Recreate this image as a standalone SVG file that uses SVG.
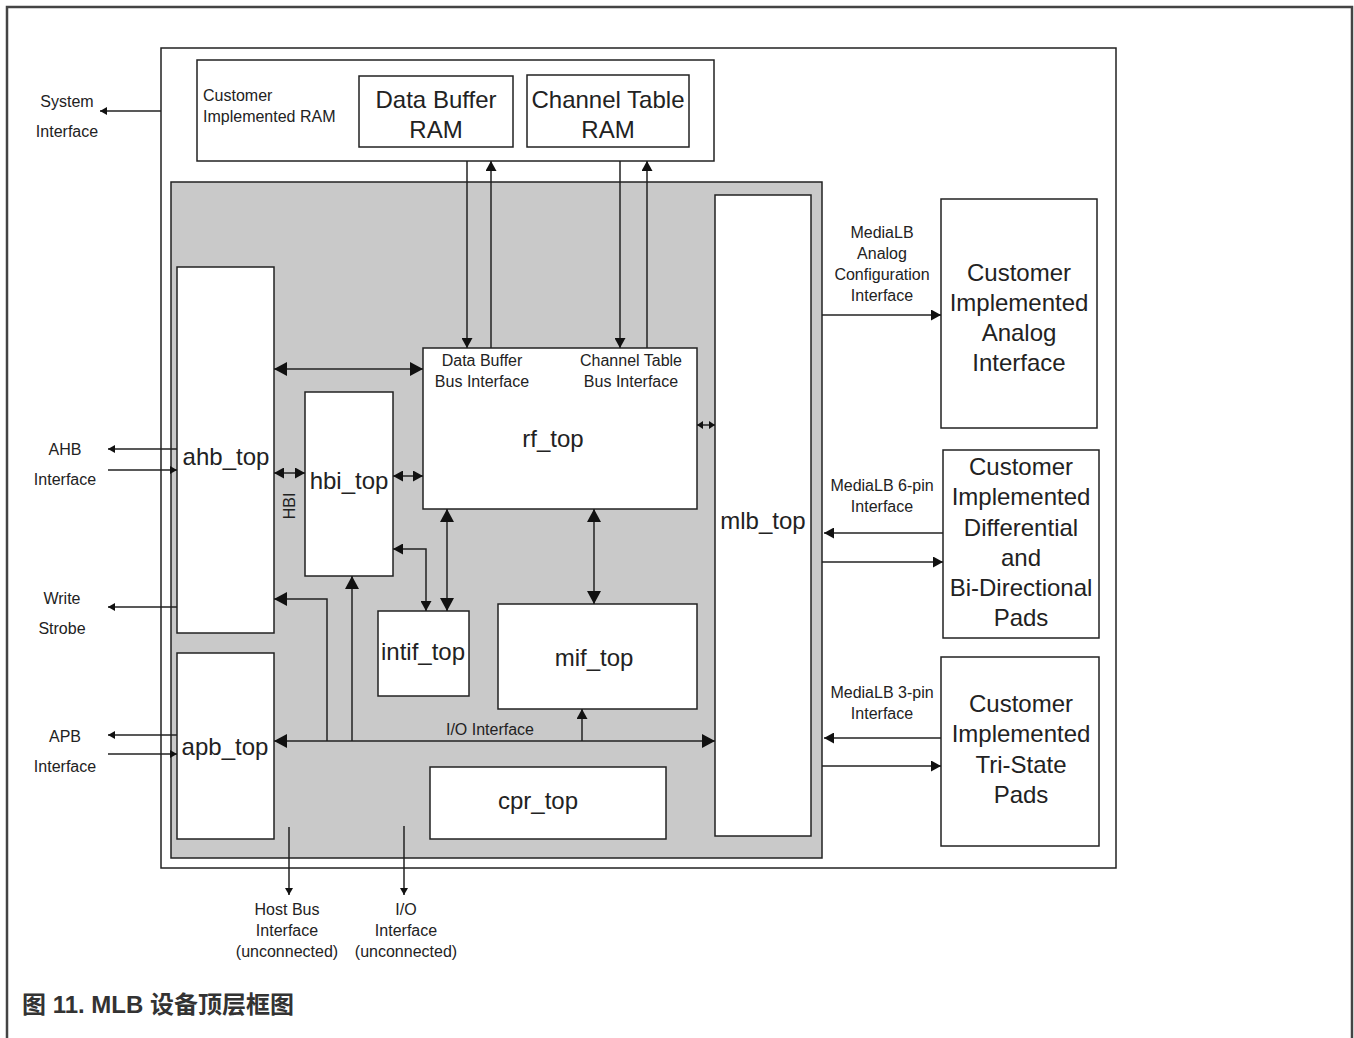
<svg xmlns="http://www.w3.org/2000/svg" width="1354" height="1038" viewBox="0 0 1354 1038">
<style>
.box{fill:#fff;stroke:#222;stroke-width:1.5}
.gray{fill:#c9c9c9;stroke:#222;stroke-width:1.5}
.big{font-family:"Liberation Sans",Arial,sans-serif;font-size:24px;fill:#222;text-anchor:middle}
.sm{font-family:"Liberation Sans",Arial,sans-serif;font-size:16px;fill:#222;text-anchor:middle}
.ln{fill:none;stroke:#222;stroke-width:1.5}
.cap{font-family:"Liberation Sans","Noto Sans CJK SC",sans-serif;font-size:24px;font-weight:bold;fill:#333}
</style>
<defs>
<marker id="aB" viewBox="0 0 10 10" refX="10" refY="5" markerWidth="13" markerHeight="14" markerUnits="userSpaceOnUse" orient="auto-start-reverse" preserveAspectRatio="none"><path d="M0,0 L10,5 L0,10 z" fill="#111"/></marker>
<marker id="aM" viewBox="0 0 10 10" refX="10" refY="5" markerWidth="10" markerHeight="11" markerUnits="userSpaceOnUse" orient="auto-start-reverse" preserveAspectRatio="none"><path d="M0,0 L10,5 L0,10 z" fill="#111"/></marker>
<marker id="aS" viewBox="0 0 10 10" refX="10" refY="5" markerWidth="7" markerHeight="8" markerUnits="userSpaceOnUse" orient="auto-start-reverse" preserveAspectRatio="none"><path d="M0,0 L10,5 L0,10 z" fill="#111"/></marker>
<marker id="aT" viewBox="0 0 10 10" refX="10" refY="5" markerWidth="6" markerHeight="8" markerUnits="userSpaceOnUse" orient="auto-start-reverse" preserveAspectRatio="none"><path d="M0,0 L10,5 L0,10 z" fill="#111"/></marker>
</defs>
<rect width="1354" height="1038" fill="#fff"/>
<path d="M7,1040 V7 H1352 V1040" fill="none" stroke="#444" stroke-width="2.5"/>

<g id="main-frame"><rect x="161" y="48" width="955" height="820" class="box"/></g>
<g id="customer-ram"><rect x="197" y="60" width="517" height="101" class="box"/>
<text x="203" y="101" class="sm" style="text-anchor:start">Customer</text>
<text x="203" y="122" class="sm" style="text-anchor:start">Implemented RAM</text></g>
<g id="data-buffer-ram"><rect x="359" y="76" width="154" height="71" class="box"/>
<text x="436" y="108" class="big">Data Buffer</text><text x="436" y="138" class="big">RAM</text></g>
<g id="channel-table-ram"><rect x="527" y="75" width="162" height="72" class="box"/>
<text x="608" y="108" class="big">Channel Table</text><text x="608" y="138" class="big">RAM</text></g>
<g id="mlb-core"><rect x="171" y="182" width="651" height="676" class="gray"/></g>

<g id="ahb_top"><rect x="177" y="267" width="97" height="366" class="box"/><text x="226" y="465" class="big">ahb_top</text></g>
<g id="apb_top"><rect x="177" y="653" width="97" height="186" class="box"/><text x="225" y="755" class="big">apb_top</text></g>
<g id="hbi_top"><rect x="305" y="392" width="88" height="184" class="box"/><text x="349" y="489" class="big">hbi_top</text></g>
<g id="rf_top"><rect x="423" y="348" width="274" height="161" class="box"/>
<text x="553" y="447" class="big">rf_top</text>
<text x="482" y="366" class="sm">Data Buffer</text><text x="482" y="387" class="sm">Bus Interface</text>
<text x="631" y="366" class="sm">Channel Table</text><text x="631" y="387" class="sm">Bus Interface</text></g>
<g id="intif_top"><rect x="378" y="611" width="91" height="85" class="box"/><text x="423" y="660" class="big">intif_top</text></g>
<g id="mif_top"><rect x="498" y="604" width="199" height="105" class="box"/><text x="594" y="666" class="big">mif_top</text></g>
<g id="cpr_top"><rect x="430" y="767" width="236" height="72" class="box"/><text x="538" y="809" class="big">cpr_top</text></g>
<g id="mlb_top"><rect x="715" y="195" width="96" height="641" class="box"/><text x="763" y="529" class="big">mlb_top</text></g>

<g id="analog-if"><rect x="941" y="199" width="156" height="229" class="box"/>
<text x="1019" y="281" class="big">Customer</text><text x="1019" y="311" class="big">Implemented</text><text x="1019" y="341" class="big">Analog</text><text x="1019" y="371" class="big">Interface</text></g>
<g id="diff-pads"><rect x="943" y="450" width="156" height="188" class="box"/>
<text x="1021" y="475" class="big">Customer</text><text x="1021" y="505" class="big">Implemented</text><text x="1021" y="536" class="big">Differential</text><text x="1021" y="566" class="big">and</text><text x="1021" y="596" class="big">Bi-Directional</text><text x="1021" y="626" class="big">Pads</text></g>
<g id="tristate-pads"><rect x="941" y="657" width="158" height="189" class="box"/>
<text x="1021" y="712" class="big">Customer</text><text x="1021" y="742" class="big">Implemented</text><text x="1021" y="773" class="big">Tri-State</text><text x="1021" y="803" class="big">Pads</text></g>

<g id="connectors">
<path class="ln" d="M161,111 H100" marker-end="url(#aS)"/>
<path class="ln" d="M177,449 H108" marker-end="url(#aS)"/>
<path class="ln" d="M108,470 H177" marker-end="url(#aS)"/>
<path class="ln" d="M177,607 H108" marker-end="url(#aS)"/>
<path class="ln" d="M177,735 H108" marker-end="url(#aS)"/>
<path class="ln" d="M108,754 H177" marker-end="url(#aS)"/>
<path class="ln" d="M274,369 H423" marker-start="url(#aB)" marker-end="url(#aB)"/>
<path class="ln" d="M274,473 H305" marker-start="url(#aM)" marker-end="url(#aM)"/>
<path class="ln" d="M393,476 H423" marker-start="url(#aM)" marker-end="url(#aM)"/>
<path class="ln" d="M697,425 H715" marker-start="url(#aT)" marker-end="url(#aT)"/>
<path class="ln" d="M467,161 V348" marker-end="url(#aM)"/>
<path class="ln" d="M491,348 V161" marker-end="url(#aM)"/>
<path class="ln" d="M620,161 V348" marker-end="url(#aM)"/>
<path class="ln" d="M647,348 V161" marker-end="url(#aM)"/>
<path class="ln" d="M447,509 V611" marker-start="url(#aB)" marker-end="url(#aB)"/>
<path class="ln" d="M426,611 V549 H393" marker-start="url(#aM)" marker-end="url(#aM)"/>
<path class="ln" d="M594,509 V604" marker-start="url(#aB)" marker-end="url(#aB)"/>
<path class="ln" d="M274,741 H715" marker-start="url(#aB)" marker-end="url(#aB)"/>
<path class="ln" d="M327,741 V599 H274" marker-end="url(#aB)"/>
<path class="ln" d="M352,741 V576" marker-end="url(#aB)"/>
<path class="ln" d="M582,741 V709" marker-end="url(#aM)"/>
<path class="ln" d="M289,827 V895" marker-end="url(#aS)"/>
<path class="ln" d="M404,826 V895" marker-end="url(#aS)"/>
<path class="ln" d="M822,315 H941" marker-end="url(#aM)"/>
<path class="ln" d="M943,533 H824" marker-end="url(#aM)"/>
<path class="ln" d="M822,562 H943" marker-end="url(#aM)"/>
<path class="ln" d="M941,738 H824" marker-end="url(#aM)"/>
<path class="ln" d="M822,766 H941" marker-end="url(#aM)"/>
</g>

<g id="labels">
<text x="67" y="107" class="sm">System</text><text x="67" y="137" class="sm">Interface</text>
<text x="65" y="455" class="sm">AHB</text><text x="65" y="485" class="sm">Interface</text>
<text x="62" y="604" class="sm">Write</text><text x="62" y="634" class="sm">Strobe</text>
<text x="65" y="742" class="sm">APB</text><text x="65" y="772" class="sm">Interface</text>
<text x="0" y="0" class="sm" transform="translate(295,506) rotate(-90)">HBI</text>
<text x="490" y="735" class="sm">I/O Interface</text>
<text x="287" y="915" class="sm">Host Bus</text><text x="287" y="936" class="sm">Interface</text><text x="287" y="957" class="sm">(unconnected)</text>
<text x="406" y="915" class="sm">I/O</text><text x="406" y="936" class="sm">Interface</text><text x="406" y="957" class="sm">(unconnected)</text>
<text x="882" y="238" class="sm">MediaLB</text><text x="882" y="259" class="sm">Analog</text><text x="882" y="280" class="sm">Configuration</text><text x="882" y="301" class="sm">Interface</text>
<text x="882" y="491" class="sm">MediaLB 6-pin</text><text x="882" y="512" class="sm">Interface</text>
<text x="882" y="698" class="sm">MediaLB 3-pin</text><text x="882" y="719" class="sm">Interface</text>
</g>
<text x="22" y="1013" class="cap">图 11. MLB 设备顶层框图</text>
</svg>
